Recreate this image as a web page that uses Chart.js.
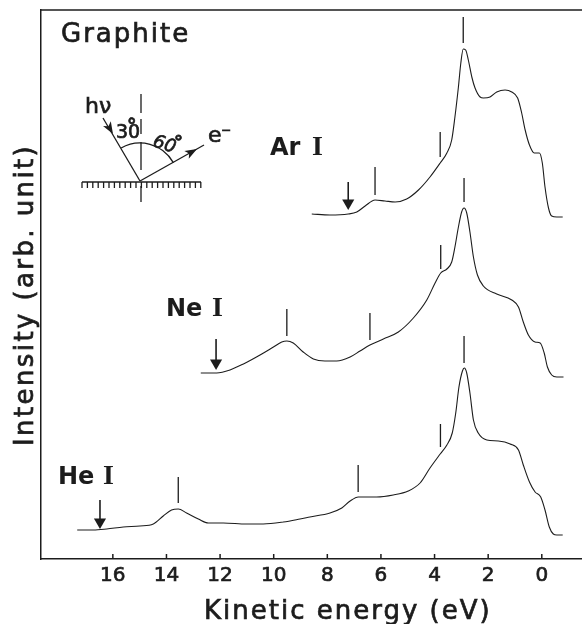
<!DOCTYPE html>
<html>
<head>
<meta charset="utf-8">
<title>Graphite</title>
<script src="https://cdn.jsdelivr.net/npm/chart.js@4"></script>
<style>
    html, body { margin: 0; padding: 0; background: #fff; }
    canvas { display: block; }
</style>
</head>
<body>
<canvas id="spectra" width="582" height="624"></canvas>
<script>
// Values. Intensity is in arbitrary units above the baseline.
const tickValues = [16, 14, 12, 10, 8, 6, 4, 2, 0];

const arEnergy = [8.58, 7.90, 7.22, 6.90, 6.59, 6.22, 5.85, 5.47, 5.04, 4.60, 4.17, 3.79, 3.54, 3.36, 3.24, 3.11, 3.02, 2.93, 2.84, 2.74, 2.61, 2.49, 2.30, 2.18, 1.93, 1.68, 1.37, 1.12, 0.90, 0.75, 0.62, 0.46, 0.28, 0.09, -0.02, -0.12, -0.25, -0.37, -0.56, -0.78];
const arIntensity = [345, 344, 345, 347, 353, 359, 358, 357, 360, 369, 382, 396, 406, 419, 442, 472, 496, 510, 509, 499, 482, 471, 462, 461, 462, 467, 469, 467, 461, 446, 429, 414, 406, 406, 396, 372, 351, 343, 342, 342];

const neEnergy = [12.72, 12.13, 11.63, 11.13, 10.51, 10.01, 9.70, 9.51, 9.27, 8.90, 8.52, 8.09, 7.65, 7.15, 6.78, 6.41, 5.91, 5.35, 4.79, 4.29, 3.98, 3.77, 3.54, 3.36, 3.24, 3.11, 2.99, 2.90, 2.80, 2.68, 2.55, 2.40, 2.18, 1.68, 1.12, 0.87, 0.69, 0.50, 0.25, 0.06, -0.09, -0.21, -0.37, -0.56, -0.81];
const neIntensity = [186, 186, 189, 195, 204, 212, 217, 218, 216, 207, 200, 198, 198, 202, 208, 214, 220, 227, 241, 259, 276, 286, 290, 297, 312, 332, 347, 351, 346, 327, 302, 284, 273, 265, 259, 252, 237, 224, 217, 216, 206, 192, 184, 182, 182];

const heEnergy = [17.33, 16.73, 16.23, 15.61, 14.99, 14.49, 14.12, 13.81, 13.56, 13.25, 12.81, 12.44, 11.88, 11.01, 10.39, 9.64, 9.02, 8.65, 7.90, 7.46, 7.15, 6.84, 6.16, 5.54, 4.98, 4.54, 4.17, 3.79, 3.54, 3.34, 3.21, 3.09, 2.96, 2.89, 2.80, 2.68, 2.55, 2.37, 2.05, 1.62, 1.18, 0.87, 0.69, 0.46, 0.25, 0.04, -0.12, -0.28, -0.43, -0.56, -0.78];
const heIntensity = [29, 29, 30, 32, 33, 35, 43, 49, 50, 46, 40, 36, 36, 35, 35, 37, 40, 42, 46, 51, 58, 62, 62, 64, 68, 76, 91, 105, 114, 126, 146, 172, 188, 191, 186, 166, 139, 126, 119, 118, 115, 109, 94, 77, 67, 62, 49, 32, 25, 24, 24];

// Short vertical markers: energy, lower end, upper end
const peakMarks = [
    [2.93, 516, 542], [3.79, 402, 427], [6.22, 364, 392],
    [2.90, 357, 381], [3.77, 290, 314], [6.41, 219, 246], [9.51, 223, 250],
    [2.90, 196, 223], [3.78, 112, 135], [6.85, 67, 94], [13.56, 56, 82]
];
// Down arrows at the onset of each spectrum
const onsetArrows = [
    [7.22, 351, 377], [12.15, 191, 220], [16.48, 32, 59]
];

const INK = '#1c1c1c';
const FONT = '"DejaVu Sans", sans-serif';

function spectrum(label, energy, intensity) {
    return {
        label,
        data: energy.map((e, i) => ({ x: e, y: intensity[i] })),
        borderColor: INK,
        borderWidth: 1.1,
        pointRadius: 0,
        cubicInterpolationMode: 'monotone'
    };
}

function mark(m) {
    return {
        data: [{ x: m[0], y: m[1] }, { x: m[0], y: m[2] }],
        borderColor: INK,
        borderWidth: 1.3,
        pointRadius: 0
    };
}

function arrow(a) {
    return {
        data: [{ x: a[0], y: a[1] + 5 }, { x: a[0], y: a[2] }],
        borderColor: INK,
        borderWidth: 1.6,
        backgroundColor: INK,
        pointStyle: 'triangle',
        rotation: 180,
        pointBorderWidth: 0,
        pointRadius: [7, 0]
    };
}

// spacing and weight are faked with letterSpacing and a thin stroke, the scan is heavier than DejaVu regular
function text(ctx, str, x, y, font, opts = {}) {
    const stroke = opts.stroke === undefined ? 0.7 : opts.stroke;
    ctx.save();
    ctx.font = font;
    ctx.fillStyle = INK;
    ctx.strokeStyle = INK;
    ctx.letterSpacing = (opts.spacing || 0) + 'px';
    ctx.textBaseline = 'alphabetic';
    ctx.translate(x, y);
    if (opts.angle) ctx.rotate(opts.angle);
    ctx.fillText(str, 0, 0);
    if (stroke > 0) {
        ctx.lineWidth = stroke;
        ctx.strokeText(str, 0, 0);
    }
    ctx.restore();
}

function line(ctx, x1, y1, x2, y2) {
    ctx.beginPath();
    ctx.moveTo(x1, y1);
    ctx.lineTo(x2, y2);
    ctx.stroke();
}

function arrowHead(ctx, x, y, angle) {
    ctx.save();
    ctx.translate(x, y);
    ctx.rotate(angle);
    ctx.beginPath();
    ctx.moveTo(0, 0);
    ctx.lineTo(-12, -4.5);
    ctx.lineTo(-9, 0);
    ctx.lineTo(-12, 4.5);
    ctx.closePath();
    ctx.fill();
    ctx.restore();
}

// Geometry sketch in the top left corner
function drawInset(ctx) {
    ctx.save();
    ctx.strokeStyle = INK;
    ctx.fillStyle = INK;
    ctx.lineWidth = 1.3;

    line(ctx, 82, 182, 201, 182);
    for (let x = 82; x <= 201; x += 5.4) line(ctx, x, 182, x, 188);

    ctx.setLineDash([19, 6, 15, 8, 28, 16, 16]);
    line(ctx, 141, 94, 141, 202);
    ctx.setLineDash([]);

    line(ctx, 103, 118, 140, 181);
    arrowHead(ctx, 113, 134, Math.atan2(63, 37));
    line(ctx, 140, 181, 204, 145);
    arrowHead(ctx, 197, 149, Math.atan2(-36, 64));

    ctx.beginPath();
    ctx.arc(140, 181, 38, -2.09, -0.5);
    ctx.stroke();
    ctx.restore();

    text(ctx, 'hν', 85, 113, '22px ' + FONT);
    text(ctx, '30', 116, 138, '19px ' + FONT);
    text(ctx, '°', 127, 132, '700 19px ' + FONT);
    text(ctx, '60', 152, 146, 'italic 18px ' + FONT, { angle: 0.3 });
    text(ctx, '°', 174, 148, '700 18px ' + FONT);
    text(ctx, 'e', 208, 142, '22px ' + FONT);
    text(ctx, '−', 221, 134, '12px ' + FONT);
}

const figureDecor = {
    id: 'figureDecor',
    afterDraw(chart) {
        const { ctx, chartArea, scales } = chart;

        // top frame line and inward pointing ticks
        ctx.save();
        ctx.strokeStyle = INK;
        ctx.lineWidth = 1.5;
        line(ctx, chartArea.left, chartArea.top, chartArea.right, chartArea.top);
        tickValues.forEach(v => {
            const x = scales.x.getPixelForValue(v);
            line(ctx, x, chartArea.bottom, x, chartArea.bottom - 5);
        });
        ctx.restore();

        text(ctx, 'Graphite', 61, 42, '26px ' + FONT, { spacing: 2 });
        text(ctx, 'Ar', 270, 155, '700 24px ' + FONT, { stroke: 0 });
        text(ctx, 'I', 312, 155, '700 28px "Liberation Serif", serif', { stroke: 0 });
        text(ctx, 'Ne', 166, 316, '700 24px ' + FONT, { stroke: 0 });
        text(ctx, 'I', 212, 316, '700 28px "Liberation Serif", serif', { stroke: 0 });
        text(ctx, 'He', 58, 484, '700 24px ' + FONT, { stroke: 0 });
        text(ctx, 'I', 103, 484, '700 28px "Liberation Serif", serif', { stroke: 0 });

        text(ctx, 'Kinetic energy (eV)', 204, 619, '26px ' + FONT, { spacing: 2 });
        text(ctx, 'Intensity (arb. unit)', 33, 446, '26px ' + FONT, { spacing: 2.4, angle: -Math.PI / 2 });

        drawInset(ctx);
    }
};

new Chart(document.getElementById('spectra'), {
    type: 'line',
    data: {
        datasets: [
            spectrum('Ar I', arEnergy, arIntensity),
            spectrum('Ne I', neEnergy, neIntensity),
            spectrum('He I', heEnergy, heIntensity),
            ...peakMarks.map(mark),
            ...onsetArrows.map(arrow)
        ]
    },
    options: {
        responsive: false,
        animation: false,
        layout: { autoPadding: false, padding: { top: 10, right: 0, left: 0, bottom: 0 } },
        plugins: { legend: { display: false }, tooltip: { enabled: false } },
        scales: {
            x: {
                type: 'linear',
                reverse: true,
                min: -1.5,
                max: 18.68,
                // blank ticks at both ends stop the scale from reserving room for edge labels
                afterBuildTicks: axis => {
                    axis.ticks = [axis.min, ...tickValues.slice().reverse(), axis.max].map(value => ({ value }));
                },
                afterFit: axis => { axis.height = 65; },
                grid: { display: false },
                border: { color: INK, width: 1.5 },
                ticks: {
                    color: INK,
                    padding: -3,
                    maxRotation: 0,
                    autoSkip: false,
                    textStrokeColor: INK,
                    textStrokeWidth: 0.7,
                    font: { family: 'DejaVu Sans', size: 20 },
                    callback: value => tickValues.includes(value) ? String(value) : ''
                }
            },
            y: {
                min: 0,
                max: 549,
                afterFit: axis => { axis.width = 41; },
                grid: { display: false },
                border: { color: INK, width: 1.5 },
                ticks: { display: false }
            }
        }
    },
    plugins: [figureDecor]
});
</script>
</body>
</html>
